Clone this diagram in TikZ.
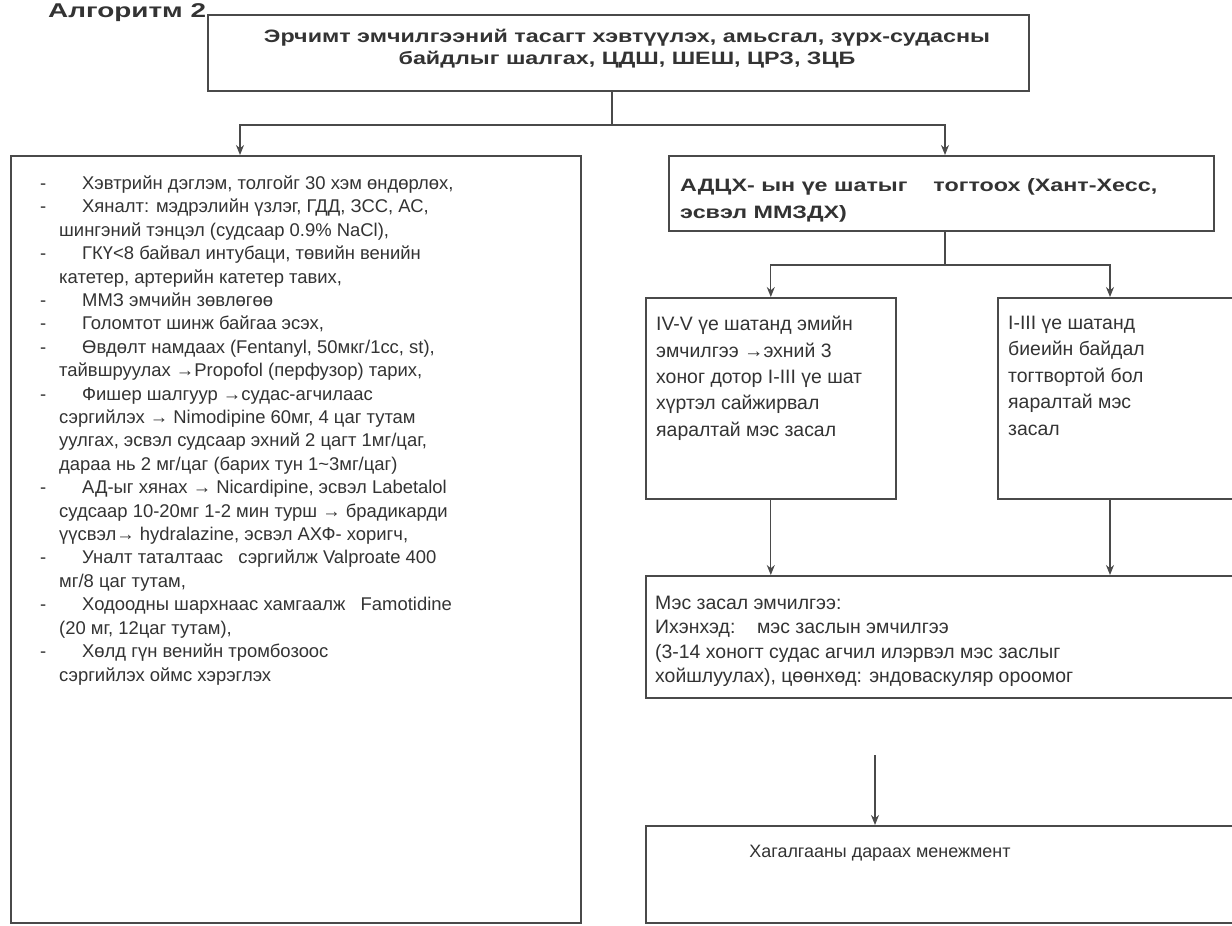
\documentclass[tikz,border=0pt]{standalone}
\usepackage{fontspec}
\setmainfont{Liberation Sans}
\newfontfamily\boldwide[FakeStretch=1.3]{Liberation Sans Bold}
\newfontfamily\titlewide[FakeStretch=1.4]{Liberation Sans Bold}
\usetikzlibrary{arrows.meta,calc}
\definecolor{ink}{HTML}{333333}
\definecolor{edge}{HTML}{4A4A4A}
\newcommand\myitem[1]{\makebox[42bp][l]{-}#1}
\newcommand\mycont[1]{\hspace*{19bp}#1}
\begin{document}
\begin{tikzpicture}[x=1bp,y=-1bp,
  box/.style={draw=edge, line width=1.6bp, rectangle, inner sep=0pt, anchor=north west},
  txt/.style={text=ink, anchor=base west, inner sep=0pt, align=left},
  arr/.style={draw=edge, line width=1.3bp, -{Stealth[length=10bp,width=8bp]}},
  ln/.style={draw=edge, line width=1.3bp}]
\useasboundingbox[fill=white] (0,0) rectangle (1232,926);

% title
\node[anchor=base west, inner sep=0pt, text=ink, font=\titlewide\fontsize{20}{22}\selectfont] (title) at (48,17) {Алгоритм 2};

% boxes
\node[box, minimum width=821bp, minimum height=76bp] (top) at (207,14) {};
\node[box, minimum width=570bp, minimum height=767bp] (left) at (10,155) {};
\node[box, minimum width=545bp, minimum height=75bp] (adch) at (668,155) {};
\node[box, minimum width=250bp, minimum height=201bp] (ivv) at (645,297) {};
\node[box, minimum width=260bp, minimum height=201bp] (iiii) at (997,297) {};
\node[box, minimum width=620bp, minimum height=122bp] (surg) at (645,575) {};
\node[box, minimum width=620bp, minimum height=97bp] (post) at (645,825) {};

% texts
\node[anchor=center, inner sep=0pt, align=center, text=ink,
      font=\boldwide\fontsize{18}{22}\selectfont] (toptext) at (627,49)
  {Эрчимт эмчилгээний тасагт хэвтүүлэх, амьсгал, зүрх-судасны\\байдлыг шалгах, ЦДШ, ШЕШ, ЦРЗ, ЗЦБ};

\node[txt, anchor=north west, font=\fontsize{18.5}{23.5}\selectfont] (lefttext) at (40,175.5) {%
\myitem{Хэвтрийн дэглэм, толгойг 30 хэм өндөрлөх,}\\
\myitem{Хяналт: мэдрэлийн үзлэг, ГДД, ЗСС, АС,}\\
\mycont{шингэний тэнцэл (судсаар 0.9\% NaCl),}\\
\myitem{ГКҮ<8 байвал интубаци, төвийн венийн}\\
\mycont{катетер, артерийн катетер тавих,}\\
\myitem{ММЗ эмчийн зөвлөгөө}\\
\myitem{Голомтот шинж байгаа эсэх,}\\
\myitem{Өвдөлт намдаах (Fentanyl, 50мкг/1сс, st),}\\
\mycont{тайвшруулах →Propofol (перфузор) тарих,}\\
\myitem{Фишер шалгуур →судас-агчилаас}\\
\mycont{сэргийлэх → Nimodipine 60мг, 4 цаг тутам}\\
\mycont{уулгах, эсвэл судсаар эхний 2 цагт 1мг/цаг,}\\
\mycont{дараа нь 2 мг/цаг (барих тун 1\textasciitilde3мг/цаг)}\\
\myitem{АД-ыг хянах → Nicardipine, эсвэл Labetalol}\\
\mycont{судсаар 10-20мг 1-2 мин турш → брадикарди}\\
\mycont{үүсвэл→ hydralazine, эсвэл АХФ- хоригч,}\\
\myitem{Уналт таталтаас\ \ \ сэргийлж Valproate 400}\\
\mycont{мг/8 цаг тутам,}\\
\myitem{Ходоодны шархнаас хамгаалж\ \ \ Famotidine}\\
\mycont{(20 мг, 12цаг тутам),}\\
\myitem{Хөлд гүн венийн тромбозоос}\\
\mycont{сэргийлэх оймс хэрэглэх}};

\node[txt, font=\boldwide\fontsize{18}{27}\selectfont] (adchtext) at (680,218.5)
  {АДЦХ- ын үе шатыг\ \ \ \ тогтоох (Хант-Хесс,\\эсвэл ММЗДХ)};
\node[txt, anchor=north west, font=\fontsize{19.5}{26.5}\selectfont] (ivvtext) at (656,316)
  {IV-V үе шатанд эмийн\\эмчилгээ →эхний 3\\хоног дотор I-III үе шат\\хүртэл сайжирвал\\яаралтай мэс засал};
\node[txt, anchor=north west, font=\fontsize{19.5}{26.5}\selectfont] (iiiitext) at (1008,316)
  {I-III үе шатанд\\биеийн байдал\\тогтвортой бол\\яаралтай мэс\\засал};
\node[txt, anchor=north west, font=\fontsize{19.5}{24.5}\selectfont] (surgtext) at (655,596)
  {Мэс засал эмчилгээ:\\Ихэнхэд:\ \ \ \ мэс заслын эмчилгээ\\(3-14 хоногт судас агчил илэрвэл мэс заслыг\\хойшлуулах), цөөнхөд: эндоваскуляр ороомог};
\node[anchor=center, inner sep=0pt, text=ink, font=\fontsize{18}{20}\selectfont] (posttext) at (880,853)
  {Хагалгааны дараах менежмент};

% connectors
\coordinate (j1) at (612,125);
\coordinate (j2) at (945,265);
\coordinate (fa) at (875,755);
\draw[ln] (top.south -| j1) -- (j1);
\draw[arr] (j1) -| ($(left.north west)+(230,0)$);
\draw[arr] (j1) -| (adch.north -| j2);
\draw[ln] (adch.south -| j2) -- (j2);
\draw[arr] (j2) -| (ivv.north);
\draw[arr] (j2) -| ($(iiii.north west)+(113,0)$);
\draw[arr] (ivv.south) -- (surg.north -| ivv.south);
\draw[arr] ($(iiii.south west)+(113,0)$) -- (surg.north -| {$(iiii.south west)+(113,0)$});
\draw[arr] (fa) -- (post.north -| fa);
\end{tikzpicture}
\end{document}
